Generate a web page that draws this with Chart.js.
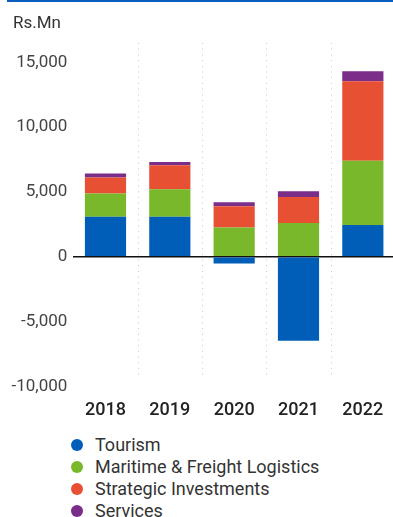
<!DOCTYPE html>
<html>
<head>
<meta charset="utf-8">
<script src="https://cdn.jsdelivr.net/npm/chart.js@4/dist/chart.umd.min.js"></script>
<style>
  html, body { margin: 0; padding: 0; background: #fff; }
  body { width: 393px; height: 517px; position: relative; overflow: hidden; font-family: Roboto, "Open Sans", sans-serif; }
  #topRule { position: absolute; left: 7px; right: 0; top: 0; height: 2px; background: #0a5ec0; z-index: 2; }
  #unit { position: absolute; left: 13px; top: 12px; font-size: 17px; color: #333; line-height: 20px; z-index: 2; }
  #wrap { position: absolute; left: 0; top: 0; width: 395px; height: 426px; }
  #legend { position: absolute; left: 71px; top: 433.5px; margin: 0; padding: 0; list-style: none; z-index: 2; }
  #legend li { height: 22.2px; line-height: 22.2px; font-size: 18px; color: #333; display: flex; align-items: center; white-space: nowrap; }
  #legend .dot { width: 12px; height: 12px; border-radius: 50%; margin-right: 12px; flex: none; }
</style>
</head>
<body>
<div id="wrap"><canvas id="chart"></canvas></div>
<div id="topRule"></div>
<div id="unit">Rs.Mn</div>
<ul id="legend"></ul>
<script>
// Segment results by year (Rs.Mn)
const years = ['2018', '2019', '2020', '2021', '2022'];
const tourism = [3100, 3100, -520, -6470, 2450];
const maritime = [1780, 2120, 2270, 2600, 4960];
const strategic = [1240, 1840, 1630, 2020, 6130];
const services = [310, 260, 310, 440, 780];

// value axis ticks
const yTicks = [-10000, -5000, 0, 5000, 10000, 15000];

const seriesNames = ['Tourism', 'Maritime & Freight Logistics', 'Strategic Investments', 'Services'];
const seriesColors = ['#005eb8', '#78b82a', '#e85034', '#7b2d8a'];
const seriesValues = [tourism, maritime, strategic, services];

// dotted dividers between the year columns
const dividers = {
  id: 'dividers',
  beforeDatasetsDraw(chart) {
    const { ctx, chartArea, scales } = chart;
    const x = scales.x;
    ctx.save();
    ctx.strokeStyle = '#c8c8c8';
    ctx.lineWidth = 1;
    ctx.setLineDash([1, 4.7]);
    for (let i = 0; i < years.length - 1; i++) {
      const px = Math.round((x.getPixelForTick(i) + x.getPixelForTick(i + 1)) / 2) + 0.5;
      ctx.beginPath();
      ctx.moveTo(px, chartArea.top);
      ctx.lineTo(px, chartArea.bottom - 8);
      ctx.stroke();
    }
    ctx.restore();
  }
};

const chart = new Chart(document.getElementById('chart'), {
  type: 'bar',
  data: {
    labels: years,
    datasets: seriesNames.map((name, i) => ({
      label: name,
      data: seriesValues[i],
      backgroundColor: seriesColors[i],
      borderWidth: 0,
      categoryPercentage: 1,
      barPercentage: 0.64
    }))
  },
  options: {
    responsive: true,
    maintainAspectRatio: false,
    animation: false,
    layout: { padding: { top: 43, left: 5.5, right: 0, bottom: 0 } },
    plugins: { legend: { display: false }, tooltip: { enabled: false } },
    scales: {
      x: {
        stacked: true,
        grid: { display: false },
        border: { display: false },
        ticks: { color: '#222', padding: 5, font: { family: 'Roboto', size: 18, weight: '500' } }
      },
      y: {
        stacked: true,
        min: -10000,
        max: 16500,
        afterBuildTicks(scale) {
          scale.ticks = yTicks.map(v => ({ value: v }));
        },
        ticks: {
          autoSkip: false,
          padding: 6,
          color: '#444',
          font: { family: 'Roboto', size: 17 },
          callback: v => Number(v).toLocaleString('en-US')
        },
        grid: {
          drawTicks: false,
          lineWidth: ctx => (ctx.tick && ctx.tick.value === 0 ? 1.5 : 0),
          color: ctx => (ctx.tick && ctx.tick.value === 0 ? '#111' : 'rgba(0,0,0,0)')
        },
        border: { display: false }
      }
    }
  },
  plugins: [dividers]
});

// legend list
const legend = document.getElementById('legend');
seriesNames.forEach((name, i) => {
  const li = document.createElement('li');
  const dot = document.createElement('span');
  dot.className = 'dot';
  dot.style.background = seriesColors[i];
  li.appendChild(dot);
  li.appendChild(document.createTextNode(name));
  legend.appendChild(li);
});
</script>
</body>
</html>
